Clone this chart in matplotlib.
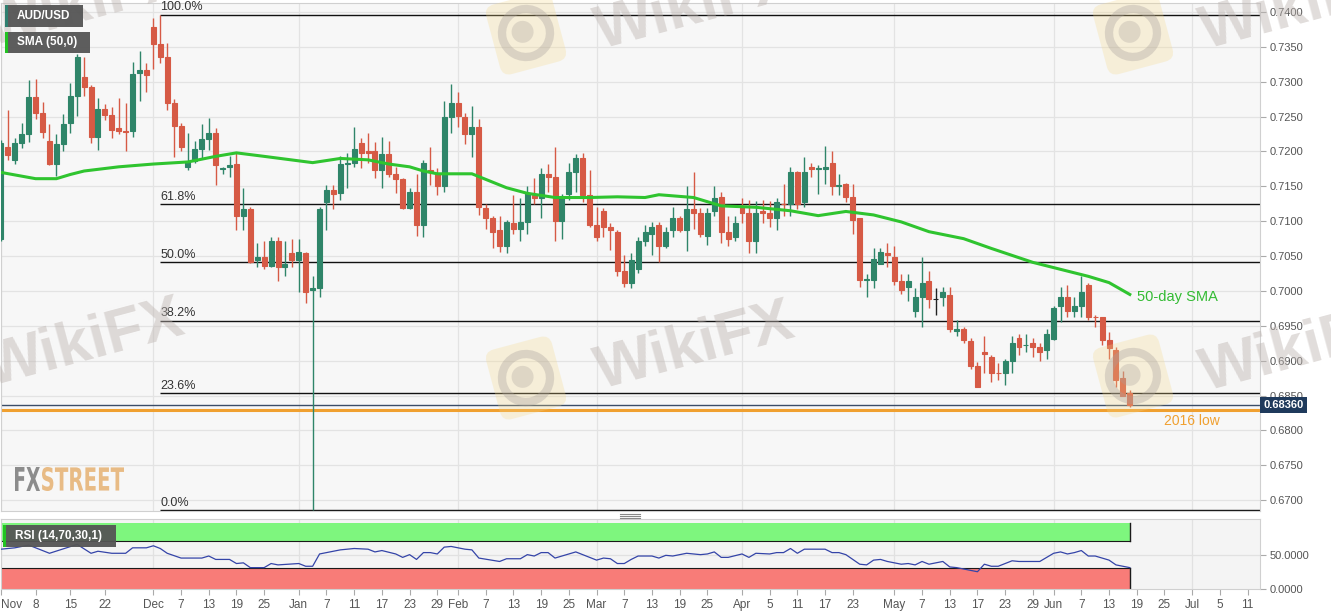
import numpy as np
import pandas as pd
import matplotlib
matplotlib.use("Agg")
import matplotlib.pyplot as plt
from matplotlib.patches import Rectangle, FancyBboxPatch, Circle, PathPatch
from matplotlib.textpath import TextPath
from matplotlib.font_manager import FontProperties
from matplotlib.transforms import Affine2D, blended_transform_factory
from matplotlib.lines import Line2D

plt.rcParams['font.family'] = ['Liberation Sans', 'DejaVu Sans']

# AUD/USD daily candles, 2018-11-01 .. 2019-06-18 (business days)
opens = [0.7074, 0.7207, 0.7188, 0.7212, 0.7225, 0.7278, 0.7255, 0.7215, 0.7182, 0.7211,
         0.7241, 0.7280, 0.7307, 0.7293, 0.7221, 0.7261, 0.7253, 0.7234, 0.7230, 0.7230,
         0.7313, 0.7317, 0.7379, 0.7354, 0.7336, 0.7270, 0.7237, 0.7178, 0.7187, 0.7204,
         0.7218, 0.7227, 0.7175, 0.7178, 0.7182, 0.7107, 0.7118, 0.7044, 0.7048, 0.7036,
         0.7072, 0.7035, 0.7055, 0.7045, 0.7055, 0.7001, 0.7004, 0.7127, 0.7145, 0.7141,
         0.7182, 0.7184, 0.7212, 0.7201, 0.7201, 0.7174, 0.7197, 0.7167, 0.7160, 0.7119,
         0.7142, 0.7094, 0.7174, 0.7167, 0.7151, 0.7250, 0.7270, 0.7250, 0.7225, 0.7235,
         0.7119, 0.7104, 0.7088, 0.7065, 0.7098, 0.7089, 0.7099, 0.7138, 0.7134, 0.7168,
         0.7164, 0.7101, 0.7139, 0.7171, 0.7190, 0.7138, 0.7095, 0.7115, 0.7091, 0.7085,
         0.7029, 0.7011, 0.7032, 0.7071, 0.7082, 0.7095, 0.7064, 0.7088, 0.7105, 0.7088,
         0.7118, 0.7112, 0.7079, 0.7114, 0.7135, 0.7084, 0.7077, 0.7121, 0.7112, 0.7072,
         0.7114, 0.7112, 0.7105, 0.7125, 0.7125, 0.7171, 0.7127, 0.7178, 0.7175, 0.7175,
         0.7184, 0.7151, 0.7154, 0.7135, 0.7104, 0.7016, 0.7016, 0.7039, 0.7055, 0.7048,
         0.7015, 0.7006, 0.6971, 0.6992, 0.7014, 0.6988, 0.6991, 0.6994, 0.6943, 0.6945,
         0.6928, 0.6893, 0.6912, 0.6906, 0.6883, 0.6882, 0.6900, 0.6933, 0.6922, 0.6925,
         0.6919, 0.6916, 0.6931, 0.6978, 0.6992, 0.6971, 0.6978, 0.7009, 0.6963, 0.6962,
         0.6929, 0.6916, 0.6875, 0.6853]
highs = [0.7217, 0.7260, 0.7220, 0.7241, 0.7303, 0.7304, 0.7271, 0.7240, 0.7225, 0.7254,
         0.7298, 0.7340, 0.7336, 0.7296, 0.7277, 0.7268, 0.7264, 0.7277, 0.7270, 0.7328,
         0.7344, 0.7327, 0.7391, 0.7396, 0.7356, 0.7275, 0.7241, 0.7227, 0.7215, 0.7240,
         0.7248, 0.7234, 0.7178, 0.7194, 0.7198, 0.7148, 0.7120, 0.7069, 0.7072, 0.7077,
         0.7078, 0.7071, 0.7074, 0.7074, 0.7056, 0.7021, 0.7121, 0.7152, 0.7152, 0.7194,
         0.7198, 0.7235, 0.7220, 0.7227, 0.7214, 0.7221, 0.7215, 0.7178, 0.7162, 0.7147,
         0.7167, 0.7188, 0.7207, 0.7177, 0.7273, 0.7297, 0.7285, 0.7255, 0.7265, 0.7247,
         0.7124, 0.7108, 0.7108, 0.7102, 0.7137, 0.7134, 0.7150, 0.7162, 0.7177, 0.7182,
         0.7207, 0.7139, 0.7184, 0.7197, 0.7198, 0.7174, 0.7121, 0.7119, 0.7097, 0.7087,
         0.7052, 0.7054, 0.7077, 0.7095, 0.7099, 0.7099, 0.7091, 0.7121, 0.7107, 0.7150,
         0.7170, 0.7119, 0.7119, 0.7150, 0.7142, 0.7107, 0.7107, 0.7134, 0.7131, 0.7129,
         0.7131, 0.7129, 0.7134, 0.7154, 0.7178, 0.7172, 0.7192, 0.7184, 0.7180, 0.7208,
         0.7200, 0.7167, 0.7155, 0.7154, 0.7105, 0.7025, 0.7062, 0.7062, 0.7069, 0.7064,
         0.7025, 0.7025, 0.7004, 0.7049, 0.7028, 0.7004, 0.7006, 0.7005, 0.6959, 0.6949,
         0.6933, 0.6898, 0.6935, 0.6908, 0.6896, 0.6902, 0.6936, 0.6939, 0.6938, 0.6933,
         0.6925, 0.6946, 0.6979, 0.7006, 0.7009, 0.6992, 0.7022, 0.7011, 0.6965, 0.6963,
         0.6941, 0.6920, 0.6885, 0.6858]
lows = [0.7071, 0.7188, 0.7182, 0.7205, 0.7214, 0.7247, 0.7220, 0.7180, 0.7165, 0.7200,
        0.7227, 0.7251, 0.7280, 0.7212, 0.7202, 0.7245, 0.7220, 0.7225, 0.7200, 0.7221,
        0.7273, 0.7285, 0.7318, 0.7327, 0.7260, 0.7192, 0.7200, 0.7174, 0.7184, 0.7191,
        0.7202, 0.7152, 0.7168, 0.7164, 0.7088, 0.7087, 0.7040, 0.7035, 0.7032, 0.7034,
        0.7015, 0.7021, 0.7034, 0.6998, 0.6983, 0.6686, 0.6992, 0.7088, 0.7117, 0.7131,
        0.7147, 0.7178, 0.7177, 0.7184, 0.7162, 0.7147, 0.7164, 0.7141, 0.7117, 0.7117,
        0.7079, 0.7077, 0.7152, 0.7138, 0.7142, 0.7227, 0.7235, 0.7211, 0.7192, 0.7109,
        0.7089, 0.7061, 0.7056, 0.7054, 0.7081, 0.7072, 0.7081, 0.7125, 0.7105, 0.7142,
        0.7071, 0.7074, 0.7131, 0.7142, 0.7128, 0.7091, 0.7071, 0.7077, 0.7059, 0.7022,
        0.7005, 0.7004, 0.7026, 0.7064, 0.7051, 0.7042, 0.7062, 0.7078, 0.7085, 0.7058,
        0.7089, 0.7077, 0.7066, 0.7107, 0.7069, 0.7064, 0.7072, 0.7098, 0.7054, 0.7054,
        0.7098, 0.7092, 0.7088, 0.7108, 0.7107, 0.7117, 0.7121, 0.7164, 0.7139, 0.7154,
        0.7137, 0.7138, 0.7127, 0.7081, 0.7005, 0.6991, 0.7004, 0.7038, 0.7034, 0.7008,
        0.6995, 0.6986, 0.6963, 0.6948, 0.6976, 0.6965, 0.6979, 0.6941, 0.6935, 0.6926,
        0.6888, 0.6862, 0.6882, 0.6869, 0.6872, 0.6865, 0.6882, 0.6908, 0.6913, 0.6905,
        0.6900, 0.6902, 0.6929, 0.6956, 0.6962, 0.6963, 0.6963, 0.6959, 0.6948, 0.6923,
        0.6902, 0.6863, 0.6849, 0.6833]
closes = [0.7212, 0.7195, 0.7212, 0.7225, 0.7278, 0.7255, 0.7228, 0.7182, 0.7211, 0.7240,
          0.7280, 0.7336, 0.7293, 0.7221, 0.7261, 0.7253, 0.7231, 0.7230, 0.7228, 0.7311,
          0.7317, 0.7310, 0.7354, 0.7336, 0.7270, 0.7237, 0.7207, 0.7185, 0.7204, 0.7218,
          0.7227, 0.7180, 0.7176, 0.7181, 0.7107, 0.7118, 0.7042, 0.7048, 0.7036, 0.7072,
          0.7035, 0.7039, 0.7045, 0.7056, 0.6999, 0.7004, 0.7117, 0.7145, 0.7139, 0.7182,
          0.7184, 0.7204, 0.7198, 0.7198, 0.7174, 0.7197, 0.7168, 0.7160, 0.7119, 0.7142,
          0.7094, 0.7184, 0.7170, 0.7151, 0.7250, 0.7270, 0.7251, 0.7225, 0.7235, 0.7121,
          0.7104, 0.7085, 0.7065, 0.7099, 0.7089, 0.7099, 0.7141, 0.7134, 0.7168, 0.7164,
          0.7101, 0.7135, 0.7171, 0.7190, 0.7138, 0.7095, 0.7077, 0.7092, 0.7087, 0.7029,
          0.7011, 0.7044, 0.7071, 0.7084, 0.7092, 0.7064, 0.7084, 0.7105, 0.7088, 0.7117,
          0.7112, 0.7082, 0.7112, 0.7134, 0.7084, 0.7074, 0.7097, 0.7112, 0.7072, 0.7112,
          0.7112, 0.7105, 0.7128, 0.7124, 0.7171, 0.7125, 0.7171, 0.7175, 0.7176, 0.7178,
          0.7151, 0.7152, 0.7135, 0.7102, 0.7016, 0.7017, 0.7046, 0.7056, 0.7051, 0.7015,
          0.7001, 0.7015, 0.6992, 0.7012, 0.6988, 0.6988, 0.6999, 0.6945, 0.6945, 0.6929,
          0.6893, 0.6863, 0.6910, 0.6883, 0.6882, 0.6899, 0.6926, 0.6919, 0.6923, 0.6919,
          0.6912, 0.6938, 0.6976, 0.6992, 0.6971, 0.6978, 0.6999, 0.6963, 0.6962, 0.6929,
          0.6918, 0.6873, 0.6850, 0.6836]

# 50-day SMA: (day index, value)
sma_points = [(0, 0.7170), (5, 0.7161), (8, 0.7161), (10, 0.7167), (12, 0.7172), (17, 0.7178),
              (22, 0.7182), (27, 0.7185), (31, 0.7193), (34, 0.7198), (38, 0.7193), (45, 0.7184),
              (49, 0.7190), (53, 0.7188), (56, 0.7182), (59, 0.7178), (61, 0.7172), (63, 0.7168),
              (68, 0.7168), (70, 0.7160), (73, 0.7148), (76, 0.7140), (80, 0.7134), (85, 0.7134),
              (89, 0.7135), (93, 0.7134), (95, 0.7138), (100, 0.7134), (104, 0.7122), (109, 0.7120),
              (114, 0.7115), (118, 0.7108), (122, 0.7114), (126, 0.7109), (130, 0.7099), (134, 0.7085),
              (139, 0.7075), (143, 0.7061), (149, 0.7041), (153, 0.7031), (157, 0.7021), (160, 0.7012),
              (163, 0.6995)]

# RSI(14): (day index, value)
rsi_points = [(0, 58), (2, 60), (4, 64), (7, 52), (11, 65), (13, 52), (14, 55), (16, 52), (18, 52),
              (19, 60), (21, 60), (22, 63), (23, 59), (24, 52), (26, 45), (29, 45), (30, 48), (31, 43),
              (33, 43), (34, 37), (35, 38), (36, 31), (38, 31), (39, 37), (40, 35), (43, 37), (44, 33),
              (45, 33), (46, 51), (47, 53), (49, 57), (51, 59), (53, 58), (54, 54), (55, 56), (57, 51),
              (58, 46), (59, 50), (60, 43), (61, 53), (62, 53), (63, 51), (64, 61), (65, 62), (67, 58),
              (68, 57), (69, 45), (72, 40), (73, 44), (75, 44), (76, 50), (77, 48), (78, 53), (79, 53),
              (80, 45), (82, 51), (83, 54), (85, 46), (86, 42), (87, 45), (88, 44), (89, 37), (90, 37),
              (91, 43), (92, 48), (94, 48), (95, 45), (96, 49), (97, 48), (99, 52), (101, 50), (102, 51),
              (103, 54), (104, 46), (105, 46), (107, 51), (108, 46), (109, 52), (111, 51), (112, 53),
              (113, 53), (114, 59), (115, 52), (116, 58), (117, 58), (119, 58), (120, 53), (121, 53),
              (122, 50), (124, 36), (125, 35), (126, 42), (127, 43), (128, 40), (130, 36), (131, 37),
              (132, 35), (133, 40), (134, 36), (135, 38), (136, 40), (137, 32), (138, 31), (139, 29),
              (141, 25), (142, 36), (143, 33), (144, 33), (146, 41), (147, 40), (150, 40), (152, 52),
              (153, 54), (154, 51), (155, 53), (156, 56), (157, 48), (158, 48), (160, 42), (161, 35),
              (163, 31)]

tick_dates = ['2018-11-01', '2018-11-08', '2018-11-15', '2018-11-22', '2018-12-03', '2018-12-07',
              '2018-12-13', '2018-12-19', '2018-12-25', '2019-01-01', '2019-01-07', '2019-01-11',
              '2019-01-17', '2019-01-23', '2019-01-29', '2019-02-01', '2019-02-07', '2019-02-13',
              '2019-02-19', '2019-02-25', '2019-03-01', '2019-03-07', '2019-03-13', '2019-03-19',
              '2019-03-25', '2019-04-01', '2019-04-05', '2019-04-11', '2019-04-17', '2019-04-23',
              '2019-05-01', '2019-05-07', '2019-05-13', '2019-05-17', '2019-05-23', '2019-05-29',
              '2019-06-03', '2019-06-07', '2019-06-13', '2019-06-19', '2019-06-25', '2019-07-01',
              '2019-07-05', '2019-07-11']
tick_text = ['Nov', '8', '15', '22', 'Dec', '7', '13', '19', '25', 'Jan', '7', '11', '17', '23', '29',
             'Feb', '7', '13', '19', '25', 'Mar', '7', '13', '19', '25', 'Apr', '5', '11', '17', '23',
             'May', '7', '13', '17', '23', '29', 'Jun', '7', '13', '19', '25', 'Jul', '5', '11']

fib_ratios = [0.0, 0.236, 0.382, 0.5, 0.618, 1.0]
fib_labels = ['0.0%', '23.6%', '38.2%', '50.0%', '61.8%', '100.0%']
fib_low, fib_high = 0.6686, 0.7396
fib_start = 23
low_2016 = 0.6829
last_price = 0.6836

W, H = 1331, 615
fig = plt.figure(figsize=(W / 100, H / 100), dpi=100)
fig.patch.set_facecolor('white')


def fx(px):
    return px / W


def fy(py):
    return 1 - py / H


ax = fig.add_axes([fx(1), fy(511), fx(1260) - fx(1), fy(3) - fy(511)])
ax2 = fig.add_axes([fx(1), fy(589), fx(1260) - fx(1), fy(519) - fy(589)])

days = pd.bdate_range('2018-11-01', '2019-07-12')
tick_pos = [days.get_loc(pd.Timestamp(d)) for d in tick_dates]
month_pos = [p for p, t in zip(tick_pos, tick_text) if not t.isdigit()]
xlim = (0.12, 181.8)

o = np.array(opens); h = np.array(highs); l = np.array(lows); c = np.array(closes)
n = min(len(o), len(h), len(l), len(c))
o, h, l, c = o[:n], h[:n], l[:n], c[:n]
xi = np.arange(n)
cols = np.where(c > o, '#2f8569', np.where(c < o, '#d65a45', '#222222'))

# ---- main price panel
ax.set_facecolor('#f7f7f7')
ax.set_xlim(*xlim)
ax.set_ylim(0.66845, 0.74129)
yt = np.round(np.arange(0.6700, 0.74001, 0.005), 4)
ax.set_yticks(yt)
ax.set_yticklabels([f'{v:.4f}' for v in yt])
ax.yaxis.tick_right()
ax.tick_params(axis='y', length=4, color='#aaaaaa', labelsize=8, labelcolor='#555555', pad=3)
ax.set_xticks(month_pos)
ax.tick_params(axis='x', length=0, labelbottom=False)
ax.grid(True, color='#e3e3e3', lw=0.9)
ax.set_axisbelow(True)
for s in ax.spines.values():
    s.set_color('#d0d0d0')

ax.vlines(xi, l, h, colors=cols, lw=1.0, zorder=3)
ax.bar(xi, np.abs(c - o), bottom=np.minimum(o, c), width=0.72, color=cols,
       edgecolor=cols, linewidth=0.8, zorder=4)

sx, sv = zip(*sma_points)
ax.plot(sx, sv, color='#2fc42f', lw=2.2, zorder=5)

for r, lab in zip(fib_ratios, fib_labels):
    lev = fib_low + r * (fib_high - fib_low)
    ax.hlines(lev, fib_start, xlim[1], color='#111111', lw=1.0, zorder=2)
    ax.annotate(lab, (fib_start, lev), xytext=(0, 1.0), textcoords='offset points',
                ha='left', va='bottom', fontsize=9, color='#333333', zorder=6)

ax.axhline(low_2016, color='#f0a030', lw=2.2, zorder=2)
ax.axhline(last_price, color='#3b4d68', lw=1.0, zorder=2)
ax.text(168, 0.6813, '2016 low', color='#f0a030', fontsize=10, ha='left', va='center')
ax.text(164.1, 0.6992, '50-day SMA', color='#33bb33', fontsize=10.5, ha='left', va='center')
bt = blended_transform_factory(ax.transAxes, ax.transData)
ax.text(1.0025, last_price, f'{last_price:.5f}', transform=bt, ha='left', va='center',
        color='white', fontsize=8, fontweight='bold', clip_on=False, zorder=10,
        bbox=dict(boxstyle='square,pad=0.28', fc='#1f3a5c', ec='none'))

# ---- RSI panel
ax2.set_facecolor('#f4f4f4')
ax2.set_xlim(*xlim)
ax2.set_ylim(-0.3, 102.2)
ax2.vlines(month_pos, -1, 105, color='#e1e1e1', lw=0.9, zorder=0)
ax2.axhline(50, color='#e1e1e1', lw=0.9, zorder=0)
last = n - 1
ax2.fill_between([xlim[0], last], 70, 97, color='#7ef67e', lw=0, zorder=1)
ax2.fill_between([xlim[0], last], -0.3, 30, color='#f87c78', lw=0, zorder=1)
ax2.plot([xlim[0], last], [70, 70], color='#1a1a1a', lw=0.8, zorder=2)
ax2.plot([xlim[0], last], [30, 30], color='#1a1a1a', lw=0.8, zorder=2)
ax2.plot([last, last], [70, 97], color='#1a1a1a', lw=1.0, zorder=2)
ax2.plot([last, last], [-0.3, 30], color='#1a1a1a', lw=1.0, zorder=2)
rx, rv = zip(*rsi_points)
ax2.plot(rx, rv, color='#3444a8', lw=0.9, zorder=3)
ax2.yaxis.tick_right()
ax2.set_yticks([0, 50])
ax2.set_yticklabels(['0.0000', '50.0000'])
ax2.tick_params(axis='y', length=4, color='#aaaaaa', labelsize=8, labelcolor='#555555', pad=3)
ax2.set_xticks(tick_pos)
ax2.set_xticklabels(tick_text)
ax2.tick_params(axis='x', length=4, color='#aaaaaa', labelsize=8.5, labelcolor='#555555', pad=3)
for t in ax2.get_xticklabels():
    if t.get_text() == 'Nov':
        t.set_horizontalalignment('left')
for s in ax2.spines.values():
    s.set_color('#d0d0d0')


# ---- overlays in pixel coordinates
def prect(x0, y0, x1, y1, **kw):
    fig.add_artist(Rectangle((fx(x0), fy(y1)), fx(x1) - fx(x0), fy(y0) - fy(y1),
                             transform=fig.transFigure, **kw))


def tag(x0, y0, x1, y1, bar, text):
    prect(x0, y0, x1, y1, fc='#555555', ec='none', alpha=0.95, zorder=20)
    prect(x0, y0, x0 + 3, y1, fc=bar, ec='none', zorder=21)
    fig.text(fx(x0 + 12), fy((y0 + y1) / 2), text, color='white', fontsize=8.5,
             fontweight='bold', va='center', ha='left', zorder=22)


tag(5, 5, 83, 27, '#2f7f6f', 'AUD/USD')
tag(5, 32, 90, 53, '#22c222', 'SMA (50,0)')
tag(3, 525, 116, 547, '#22c222', 'RSI (14,70,30,1)')

# panel resize grip
for gy in (514, 516, 518):
    fig.add_artist(Line2D([fx(620), fx(640)], [fy(gy), fy(gy)], color='#888888', lw=0.8,
                          transform=fig.transFigure))

# watermark: tilted logo + text, drawn in pixel space
pix = Affine2D().scale(1 / W, 1 / H) + fig.transFigure
for cx, cy in [(85, 345), (695, 348), (1300, 350), (85, 5), (695, 8), (1300, 8)]:
    fig.text(fx(cx), fy(cy), 'WikiFX', fontsize=44, fontweight='bold', color='#bdb4b0',
             alpha=0.45, rotation=15, ha='center', va='center', rotation_mode='anchor', zorder=15)
for lx, ly in [(526, 378), (526, 33), (1133, 376), (1133, 33)]:
    px_, py_ = lx, H - ly
    rot = Affine2D().rotate_deg_around(px_, py_, 15) + pix
    fig.add_artist(FancyBboxPatch((px_ - 34, py_ - 36), 68, 72,
                                  boxstyle='round,pad=0,rounding_size=10',
                                  transform=rot, fc='#f5d98a', ec='none', alpha=0.28, zorder=14))
    fig.add_artist(Circle((px_, py_), 24, transform=rot, fc='none', ec='#a8a09c',
                          lw=6, alpha=0.35, zorder=14))
    fig.add_artist(Circle((px_ - 3, py_ + 2), 11, transform=rot, fc='#a8a09c', ec='none',
                          alpha=0.3, zorder=14))


# FXSTREET logo
def logo_word(s, x0, x1, ytop, ybot, color):
    tp = TextPath((0, 0), s, size=100, prop=FontProperties(family='DejaVu Sans', weight='bold'))
    ext = tp.get_extents()
    tr = (Affine2D().translate(-ext.x0, -ext.y0)
          .scale((x1 - x0) / ext.width / W, (ybot - ytop) / ext.height / H)
          .translate(fx(x0), fy(ybot)) + fig.transFigure)
    fig.add_artist(PathPatch(tp, transform=tr, fc=color, ec='none', zorder=16))


logo_word('FX', 15, 40, 467, 491, '#8c8c8c')
logo_word('STREET', 42, 124, 467, 491, '#e8bb85')

fig.savefig('out.png', dpi=100, facecolor='white')
